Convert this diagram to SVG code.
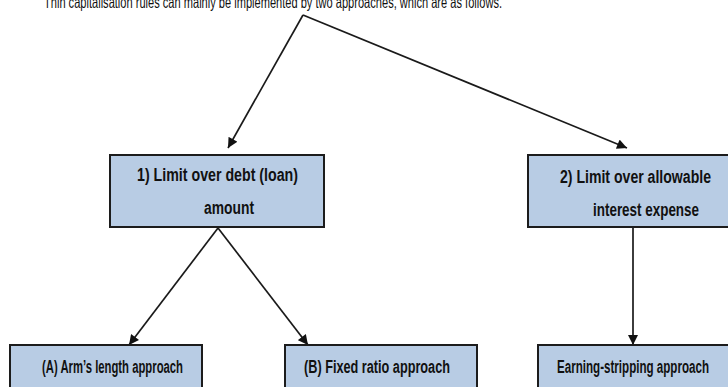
<svg xmlns="http://www.w3.org/2000/svg" width="728" height="387" viewBox="0 0 728 387">
<defs>
<style>
.box{fill:#b8cce4;stroke:#1c1c1c;stroke-width:2}
.t{font-family:"Liberation Sans Narrow","Liberation Sans",Arial,sans-serif;font-weight:bold;font-size:17.5px;fill:#111}
.title{font-family:"Liberation Sans Narrow","Liberation Sans",Arial,sans-serif;font-size:16.5px;fill:#111}
.c{stroke:#1a1a1a;stroke-width:1.7;fill:none}
</style>
<marker id="ah" viewBox="0 0 10 10" refX="10" refY="5" markerWidth="11" markerHeight="10" markerUnits="userSpaceOnUse" orient="auto">
<path d="M0,0 L10,5 L0,10 z" fill="#111"/>
</marker>
</defs>
<rect width="728" height="387" fill="#fff"/>
<text class="title" x="44" y="8" textLength="458" lengthAdjust="spacingAndGlyphs">Thin capitalisation rules can mainly be implemented by two approaches, which are as follows.</text>
<g id="connectors">
<line class="c" x1="303" y1="15" x2="228" y2="148" marker-end="url(#ah)"/>
<line class="c" x1="303" y1="15" x2="627" y2="148" marker-end="url(#ah)"/>
<line class="c" x1="218" y1="228" x2="129" y2="345" marker-end="url(#ah)"/>
<line class="c" x1="218" y1="228" x2="308" y2="345" marker-end="url(#ah)"/>
<line class="c" x1="633" y1="228" x2="633" y2="345" marker-end="url(#ah)"/>
</g>
<g id="node1">
<rect class="box" x="110" y="155" width="214" height="72"/>
<text class="t" x="137" y="181" textLength="161" lengthAdjust="spacingAndGlyphs">1)  Limit over debt (loan)</text>
<text class="t" x="204" y="214" textLength="50" lengthAdjust="spacingAndGlyphs">amount</text>
</g>
<g id="node2">
<rect class="box" x="528" y="155" width="214" height="72"/>
<text class="t" x="560" y="183" textLength="151" lengthAdjust="spacingAndGlyphs">2)  Limit over allowable</text>
<text class="t" x="593" y="216" textLength="106" lengthAdjust="spacingAndGlyphs">interest expense</text>
</g>
<g id="nodeA">
<rect class="box" x="10" y="345" width="192" height="60"/>
<text class="t" x="42" y="373" textLength="141" lengthAdjust="spacingAndGlyphs">(A)  Arm’s length approach</text>
</g>
<g id="nodeB">
<rect class="box" x="285" y="345" width="192" height="60"/>
<text class="t" x="304" y="373" textLength="146" lengthAdjust="spacingAndGlyphs">(B)  Fixed ratio approach</text>
</g>
<g id="nodeC">
<rect class="box" x="538" y="345" width="192" height="60"/>
<text class="t" x="557" y="373" textLength="152" lengthAdjust="spacingAndGlyphs">Earning-stripping approach</text>
</g>
</svg>
